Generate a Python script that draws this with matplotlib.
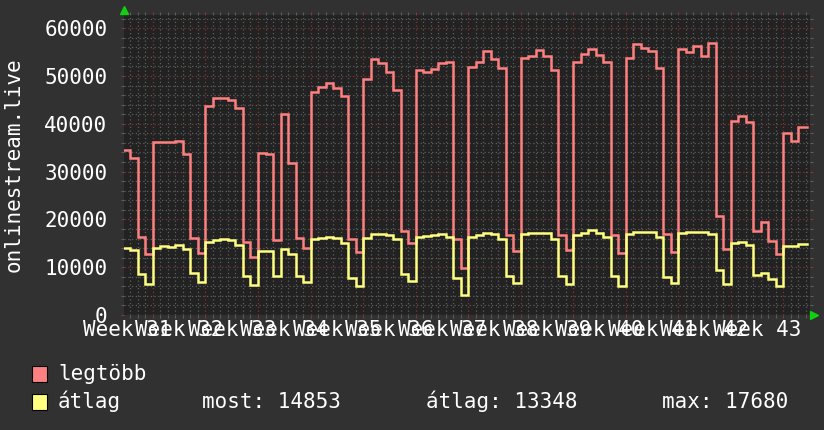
import numpy as np
import matplotlib
matplotlib.use("Agg")
import matplotlib.pyplot as plt
from matplotlib.lines import Line2D
from matplotlib.patches import Rectangle
import matplotlib.transforms as mtransforms

# ---------------- data (daily samples, day 0 = Monday of week 32) ----------------
first_day = -4
last_sample_day = 87.15

legtobb = [
    34521, 32917, 16389, 12832,
    36195, 36195, 36195, 36474, 33754, 16180, 12972,
    43797, 45470, 45470, 44912, 43378, 15343, 12205,
    33963, 33684, 15692, 42053, 31871, 16180, 14088,
    46726, 47772, 48609, 47563, 45819, 15971, 13251,
    49446, 53630, 52654, 50771, 47075, 17644, 15134,
    51329, 50911, 51469, 52794, 53003, 15831, 9903,
    51887, 52863, 55304, 53560, 51747, 16738, 13460,
    53839, 54258, 55443, 54258, 51259, 16738, 13599,
    52863, 54607, 55653, 54467, 53003, 16738, 13041,
    53700, 56629, 55932, 55304, 51747, 16877, 13251,
    55653, 55094, 56350, 54188, 56978, 20783, 13808,
    40658, 41634, 40449, 17644, 19388, 15552, 12762,
    38148, 36474, 39403,
]

atlag = [
    14088, 13530, 8508, 6556,
    14088, 14437, 14297, 14576, 13739, 8718, 6904,
    15343, 15692, 15901, 15692, 14646, 8160, 6277,
    13460, 13460, 8229, 13878, 12693, 8229, 6904,
    15901, 16180, 16389, 16040, 14994, 7811, 6068,
    16180, 16877, 17017, 16738, 15831, 8578, 7113,
    16389, 16529, 16807, 16947, 16389, 7671, 4184,
    16389, 16738, 17226, 16947, 15831, 8160, 6625,
    16947, 17226, 17226, 17226, 15901, 8160, 6486,
    16738, 17226, 17680, 17226, 16389, 8229, 6068,
    16947, 17436, 17436, 17436, 16389, 8020, 6625,
    17226, 17436, 17436, 17436, 16947, 9415, 6486,
    15134, 15343, 14646, 8369, 8857, 7462, 6068,
    14506, 14506, 14853,
]

week_numbers = list(range(31, 44))
y_ticks = [0, 10000, 20000, 30000, 40000, 50000, 60000]
y_label = "onlinestream.live"
legend_names = ["legtöbb", "átlag"]
stats = ["most: 14853", "átlag: 13348", "max: 17680"]

# ---------------- styling ----------------
BG = "#313131"
CANVAS = "#222222"
RED = "#ff8080"
YELLOW = "#ffff80"
MINOR = "#5e5e5e"
MAJOR = "#803838"
ARROW = "#10d010"
FONT = "DejaVu Sans Mono"
FS = 15

W, H = 824, 430
fig = plt.figure(figsize=(W / 100, H / 100), dpi=100, facecolor=BG)
L, R, T, B = 124, 810, 15, 315
ax = fig.add_axes([L / W, (H - B) / H, (R - L) / W, (B - T) / H])
ax.set_facecolor(CANVAS)

days = np.arange(first_day, first_day + len(legtobb))
x = np.append(days, last_sample_day)
red_y = np.append(legtobb, legtobb[-1])
yel_y = np.append(atlag, atlag[-1])

ax.step(x, red_y, where="post", color=RED, lw=1.8, zorder=3, solid_joinstyle="miter")
ax.step(x, yel_y, where="post", color=YELLOW, lw=1.8, zorder=4, solid_joinstyle="miter")

px_per_day = 7.5
x0 = (L - 153) / px_per_day
x1 = (R - 153) / px_per_day
ax.set_xlim(x0, x1)
ymax = (B - T) / 4.78 * 1000
ax.set_ylim(0, ymax)

ax.set_xticks(np.arange(0, 88, 7))
ax.set_xticks(np.arange(-3, 88, 1), minor=True)
ax.set_yticks(y_ticks)
ax.set_yticks(np.arange(0, 62001, 2000), minor=True)
ax.set_xticklabels([])
ax.set_yticklabels([str(v) for v in y_ticks], fontfamily=FONT, fontsize=FS, color="white")

ax.grid(which="minor", color=MINOR, linestyle=(0, (1, 2)), linewidth=0.9)
ax.grid(which="major", color=MAJOR, linestyle=(0, (1, 2)), linewidth=0.9)
ax.set_axisbelow(True)

ax.tick_params(axis="x", which="minor", direction="out", length=2.5, color=MINOR,
               top=True, bottom=True, width=0.8)
ax.tick_params(axis="x", which="major", direction="out", length=2.5, color=MAJOR,
               top=True, bottom=True, width=0.8)
ax.tick_params(axis="y", which="minor", direction="out", length=2, color=MINOR,
               left=True, right=True, width=0.8)
ax.tick_params(axis="y", which="major", direction="out", length=2, color=MAJOR,
               left=True, right=True, width=0.8, pad=10)
for s in ax.spines.values():
    s.set_visible(False)

# week labels centred in the middle of each week
trans = mtransforms.blended_transform_factory(ax.transData, ax.transAxes)
for k, wk in enumerate(week_numbers):
    ax.text(7 * k - 3.5, -15 / (B - T), f"Week {wk}", transform=trans,
            ha="center", va="center", fontfamily=FONT, fontsize=FS, color="white",
            clip_on=False)

fig.text(14 / W, 1 - 165 / H, y_label, rotation=90, ha="center", va="center",
         fontfamily=FONT, fontsize=FS, color="white")

# axis arrows
fig.add_artist(Line2D([L / W], [1 - 10 / H], marker="^", markersize=5.5, color=ARROW,
                      transform=fig.transFigure, linestyle="none"))
fig.add_artist(Line2D([814 / W], [1 - B / H], marker=">", markersize=5.5, color=ARROW,
                      transform=fig.transFigure, linestyle="none"))

# legend
rows = [(366, 380), (394, 408)]
for (box_top, base), name, col in zip(rows, legend_names, [RED, YELLOW]):
    fig.add_artist(Rectangle((32 / W, 1 - (box_top + 16) / H), 15 / W, 16 / H,
                             transform=fig.transFigure, facecolor=col,
                             edgecolor="black", linewidth=0.8))
    fig.text(58 / W, 1 - base / H, name, ha="left", va="baseline",
             fontfamily=FONT, fontsize=FS, color="white")
for xs, s in zip([202, 426, 662], stats):
    fig.text(xs / W, 1 - rows[1][1] / H, s, ha="left", va="baseline",
             fontfamily=FONT, fontsize=FS, color="white")

fig.savefig("out.png", dpi=100, facecolor=BG)
